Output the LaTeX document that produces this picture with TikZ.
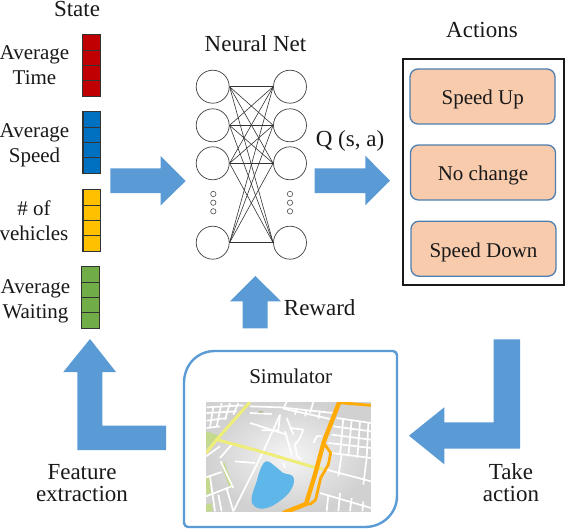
\documentclass[tikz,border=0pt]{standalone}
\usepackage{fontspec}
\setmainfont{Liberation Serif}
\tikzset{
  big/.style={inner sep=0pt,font=\fontsize{23}{22.2}\selectfont,align=center,anchor=base,text=black!90},
  small/.style={inner sep=0pt,font=\fontsize{21}{24.5}\selectfont,align=center,anchor=base,text=black!90},
  cell/.style={draw=black!80,line width=1.1pt},
  neuron/.style={circle,draw=black!75,line width=0.7pt,minimum size=33pt,inner sep=0pt},
  tinydot/.style={circle,draw=black!70,line width=0.6pt,minimum size=5.4pt,inner sep=0pt},
  link/.style={draw=black!80,line width=0.6pt},
  bigarrow/.style={fill=arrowblue,draw=none},
  action/.style={draw=actionedge,line width=1.3pt,fill=actionfill,rounded corners=8pt,minimum width=145pt,minimum height=55pt,inner sep=0pt},
  street/.style={draw=white,line width=1.7pt},
}
\definecolor{arrowblue}{HTML}{5B9BD5}
\definecolor{actionedge}{HTML}{4F7FAF}
\definecolor{actionfill}{HTML}{F8CBAD}
\definecolor{cred}{HTML}{C00000}
\definecolor{cblue}{HTML}{0070C0}
\definecolor{cyellow}{HTML}{FFC000}
\definecolor{cgreen}{HTML}{70AD47}
\definecolor{mapgreen}{HTML}{C3D98C}
\definecolor{mapyellow}{HTML}{EDED78}
\definecolor{maporange}{HTML}{FFAA05}
\definecolor{maplake}{HTML}{5FB6E8}
\begin{document}
\begin{tikzpicture}[x=1pt,y=-1pt]
\useasboundingbox (0,0) rectangle (566,530);
\fill[white] (0,0) rectangle (566,530);

% State
\node[big] (state) at (77,16.5) {State};
\node[small] (lt) at (34.5,84) {Average\\Time};
\node[small] (ls) at (34.5,162) {Average\\Speed};
\node[small] (lv) at (34,240) {\# of\\vehicles};
\node[small] (lw) at (35.5,318) {Average\\Waiting};
\foreach \c/\xa/\ya in {cred/82.7/34.7,cblue/83/111.7,cyellow/83/189.7,cgreen/81.7/266.7}{
  \fill[\c] (\xa,\ya) rectangle ++(17.5,61.6);
  \foreach \i in {0,1,2,3}{
    \draw[cell] (\xa,\ya+\i*15.4) rectangle ++(17.5,15.4);
  }
}

% Neural net
\node[big] (nn) at (255.5,51) {Neural Net};
\foreach \n/\y in {1/86.7,2/125.3,3/163.3,4/242.7}{
  \node[neuron] (l\n) at (212.7,\y) {};
  \node[neuron] (r\n) at (290,\y) {};
}
\foreach \a in {1,2,3,4}{\foreach \b in {1,2,3,4}{\draw[link] (l\a.east) -- (r\b.west);}}
\foreach \y [count=\i] in {194,202.7,211.3}{
  \node[tinydot] (ld\i) at (213.3,\y) {};
  \node[tinydot] (rd\i) at (290,\y) {};
}

% Arrows
\fill[bigarrow] (110.3,168.3) -- (160.7,168.3) -- (160.7,156) -- (185.7,181) -- (160.7,205.3) -- (160.7,193) -- (110.3,193) -- cycle;
\fill[bigarrow] (314.7,168.3) -- (365.3,168.3) -- (365.3,155.7) -- (390,180.7) -- (365.3,205.3) -- (365.3,193) -- (314.7,193) -- cycle;
\fill[bigarrow] (255.3,276) -- (281,301.3) -- (267.7,301.3) -- (267.7,328.3) -- (242.7,328.3) -- (242.7,301.3) -- (230,301.3) -- cycle;
\fill[bigarrow] (90,339) -- (116,372) -- (102.3,372) -- (102.3,425.7) -- (166,425.7) -- (166,450) -- (77.3,450) -- (77.3,372) -- (63.3,372) -- cycle;
\fill[bigarrow] (493.7,339.3) -- (520,339.3) -- (520,448.7) -- (444.3,448.7) -- (444.3,464.3) -- (409,435.7) -- (444.3,407.3) -- (444.3,422.3) -- (493.7,422.3) -- cycle;

% Labels
\node[big] (q) at (350,146) {Q (s, a)};
\node[big] (rw) at (319.7,315) {Reward};
\node[big] (fe) at (82,501.5) {Feature\\extraction};
\node[big] (ta) at (511,501.5) {Take\\action};

% Actions
\node[big] (act) at (482,37.3) {Actions};
\draw[draw=black!90,line width=1.3pt] (403,59) rectangle (564,285);
\node[action] (a1) at (482.5,96.5) {};
\node[action] (a2) at (483,172.5) {};
\node[action] (a3) at (483.5,248.7) {};
\node[small] (t1) at (482.7,104) {Speed Up};
\node[small] (t2) at (483,180) {No change};
\node[small] (t3) at (483.5,257.2) {Speed Down};

% Simulator
\draw[draw=arrowblue,line width=2.4pt] (184,383) .. controls (184,365) and (197,351) .. (215,351) -- (393,351) .. controls (395,351) and (397,353) .. (397,355) -- (397,496) .. controls (397,513) and (383,527) .. (365,527) -- (188,527) .. controls (186,527) and (184,525) .. (184,523) -- cycle;
\node[small] (sim) at (290.7,383) {Simulator};

% Map
\begin{scope}[shift={(200,398)},x=0.33333pt,y=-0.33333pt]
\clip (18,12) rectangle (513,340);
\shade[inner color=black!4,outer color=black!18] (18,12) rectangle (513,340);
\fill[mapgreen] (18,100) -- (55,112) -- (40,130) -- (18,152) -- cycle;
\fill[mapgreen] (18,235) -- (28,233) -- (32,285) -- (18,290) -- cycle;
\fill[mapgreen] (18,320) -- (35,316) -- (38,340) -- (18,340) -- cycle;
\fill[mapgreen] (62,195) -- (74,195) -- (100,268) -- (90,272) -- cycle;
\fill[mapgreen!80!black] (176,40) -- (190,40) -- (188,46) -- (175,46) -- cycle;
\foreach \p in {
 {(20,28)--(130,22)},{(20,45)--(110,40)},{(20,68)--(80,60)},{(20,90)--(60,85)},
 {(40,25)--(30,90)},{(65,15)--(50,85)},{(90,15)--(75,65)},{(115,15)--(100,50)},
 {(150,25)--(240,28)--(400,45)},{(250,32)--(400,65)},{(340,12)--(330,45)},{(260,12)--(250,32)},
 {(290,30)--(285,50)},{(320,35)--(315,55)},{(360,40)--(355,62)},
 {(240,50)--(190,160)--(100,340)},{(150,45)--(215,48)},
 {(18,175)--(60,145)},{(60,180)--(95,140)},{(105,190)--(165,195)},
 {(185,97)--(235,97)--(240,50)},{(260,60)--(280,110)},{(255,100)--(275,170)},
 {(310,95)--(300,120)--(285,140)--(292,175)--(305,185)},{(340,135)--(350,115)--(365,115)},
 {(250,195)--(255,210)},{(150,75)--(260,110)},{(310,95)--(270,90)},
 {(410,60)--(513,75)},{(400,85)--(513,100)},{(395,110)--(513,125)},{(385,135)--(513,150)},{(395,165)--(513,180)},
 {(430,60)--(420,170)},{(455,65)--(445,175)},{(480,70)--(472,180)},{(505,75)--(500,180)},
 {(380,215)--(513,250)},{(360,285)--(513,330)},{(425,170)--(415,235)},{(500,180)--(490,260)},
 {(420,285)--(415,340)},{(385,290)--(380,340)},{(455,300)--(450,340)},{(490,310)--(487,340)},
 {(18,238)--(65,222)},{(30,235)--(45,340)},{(62,190)--(100,270)},{(18,295)--(95,265)},{(80,272)--(100,340)},{(55,290)--(65,340)}}{
  \draw[street] \p;
}
\draw[mapyellow,line width=3pt,line join=round] (150,12) -- (50,125) -- (18,165);
\draw[mapyellow,line width=3pt,line join=round] (50,125) -- (170,157) -- (350,210) -- (370,213);
\fill[maplake] plot[smooth cycle,tension=0.7] coordinates {(200,190) (228,207) (248,224) (279,236) (276,270) (245,305) (200,330) (165,326) (155,300) (170,250) (182,212)};
\draw[maporange,line width=4.4pt,line join=round] (418,12) -- (372,130) -- (345,230) -- (318,318) -- (250,345);
\draw[maporange,line width=2.8pt] (418,14) -- (513,22);
\draw[maporange,line width=2.8pt,line join=round] (375,140) -- (392,165) -- (385,200) -- (362,240) -- (347,305) -- (332,318) -- (310,318);
\end{scope}
\end{tikzpicture}
\end{document}
